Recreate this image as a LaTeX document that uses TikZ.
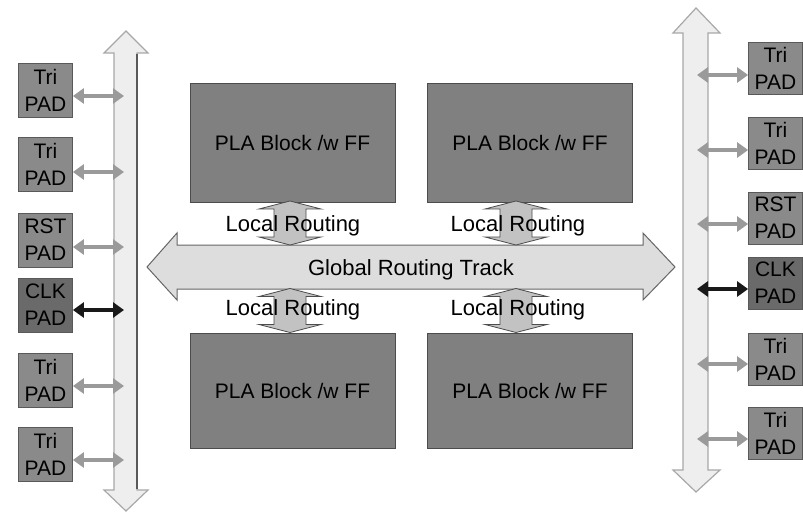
\documentclass[tikz,border=0pt]{standalone}
\usepackage{fontspec}
\setmainfont{Liberation Sans}
\usetikzlibrary{arrows.meta,calc}
\definecolor{padfill}{HTML}{8A8A8A}
\definecolor{clkfill}{HTML}{6A6A6A}
\definecolor{plafill}{HTML}{808080}
\definecolor{busfill}{HTML}{EEEEEE}
\definecolor{busedge}{HTML}{A8A8A8}
\definecolor{trackfill}{HTML}{DDDDDD}
\definecolor{localfill}{HTML}{C2C2C2}
\definecolor{arrgray}{HTML}{9A9A9A}
\tikzset{
  pad/.style={draw=black!65, line width=0.8pt, fill=padfill, minimum width=54pt, minimum height=54pt,
    inner sep=0pt, align=center, font=\fontsize{21}{27}\selectfont},
  clkpad/.style={pad, fill=clkfill},
  pla/.style={draw=black!70, line width=0.8pt, fill=plafill, minimum width=205pt, minimum height=119pt,
    inner sep=0pt, font=\fontsize{21}{25}\selectfont},
  padarr/.style={draw=arrgray, line width=3.5pt, {Triangle[length=11pt,width=15pt]}-{Triangle[length=11pt,width=15pt]}},
  clkarr/.style={padarr, draw=black!90},
  lbl/.style={anchor=base, inner sep=0pt, font=\fontsize{22}{26}\selectfont},
  busshape/.style={fill=busfill, draw=busedge, line width=1.2pt, line join=miter},
  trackshape/.style={fill=trackfill, draw=black!60, line width=1pt, line join=miter},
  localshape/.style={fill=localfill, draw=black!70, line width=0.8pt, line join=miter},
  localarr/.pic={
    \draw[localshape] (-16,-14) -- (-31,-14) -- (0,-22) -- (31,-14) -- (16,-14) -- (16,14)
      -- (31,14) -- (0,22) -- (-31,14) -- (-16,14) -- cycle;
  }
}
\begin{document}
\begin{tikzpicture}[x=1pt,y=-1pt]
\useasboundingbox (0,0) rectangle (803,513);
\fill[white] (0,0) rectangle (803,513);

% left bus
\draw[busshape] (114,53) -- (104,53) -- (126,31) -- (148,53) -- (137,53) -- (137,490)
  -- (148,490) -- (126,511) -- (104,490) -- (114,490) -- cycle;
\draw[black!65, line width=1.5pt] (137,54) -- (137,489);
\coordinate (lbus) at (124,0);

% right bus
\draw[busshape] (683,33) -- (673,33) -- (696,8) -- (720,33) -- (708,33) -- (708,470)
  -- (720,470) -- (696,492) -- (673,470) -- (683,470) -- cycle;
\coordinate (rbus) at (697,0);

% global routing track
\draw[trackshape] (177,245) -- (177,233) -- (147,267) -- (177,300) -- (177,289) -- (643,289)
  -- (643,300) -- (675,267) -- (643,233) -- (643,245) -- cycle;
\node[lbl] (glob) at (411,275) {Global Routing Track};

% PLA blocks
\node[pla] (tl) at (292.5,142.5) {PLA Block /w FF};
\node[pla] (tr) at (530,142.5) {PLA Block /w FF};
\node[pla, minimum height=115pt] (bl) at (292.5,390.5) {PLA Block /w FF};
\node[pla, minimum height=115pt] (br) at (530,390.5) {PLA Block /w FF};

% local routing arrows and labels
\pic at (290,223) {localarr};
\pic at (516,223) {localarr};
\pic at (290,310.5) {localarr};
\pic at (516,310.5) {localarr};
\node[lbl] (lr1) at (293,232) {Local Routing};
\node[lbl] (lr2) at (518,232) {Local Routing};
\node[lbl] (lr3) at (293,315) {Local Routing};
\node[lbl] (lr4) at (518,315) {Local Routing};

% left pads
\node[pad] (lp1) at (45.5,90) {Tri\\PAD};
\node[pad] (lp2) at (45.5,164) {Tri\\PAD};
\node[pad] (lp3) at (45.5,240) {RST\\PAD};
\node[clkpad] (lp4) at (45.5,305) {CLK\\PAD};
\node[pad] (lp5) at (45.5,380) {Tri\\PAD};
\node[pad] (lp6) at (45.5,454) {Tri\\PAD};

% right pads
\node[pad, minimum height=52pt] (rp1) at (775.5,68) {Tri\\PAD};
\node[pad, minimum height=52pt] (rp2) at (775.5,143) {Tri\\PAD};
\node[pad, minimum height=52pt] (rp3) at (775.5,218) {RST\\PAD};
\node[clkpad, minimum height=52pt] (rp4) at (775.5,283) {CLK\\PAD};
\node[pad, minimum height=52pt] (rp5) at (775.5,359) {Tri\\PAD};
\node[pad, minimum height=52pt] (rp6) at (775.5,433) {Tri\\PAD};

% pad connectors (left)
\foreach \i/\d/\s in {1/6/padarr,2/8/padarr,3/7/padarr,4/5/clkarr,5/6/padarr,6/6/padarr}{
  \path ([yshift=-\d pt]lp\i.east) coordinate (la\i);
  \draw[\s] (la\i) -- (la\i -| lbus);
}
% pad connectors (right)
\foreach \i/\d/\s in {1/7/padarr,2/7/padarr,3/6/padarr,4/6/clkarr,5/5/padarr,6/6/padarr}{
  \path ([yshift=-\d pt]rp\i.west) coordinate (ra\i);
  \draw[\s] (ra\i -| rbus) -- (ra\i);
}
\end{tikzpicture}
\end{document}
